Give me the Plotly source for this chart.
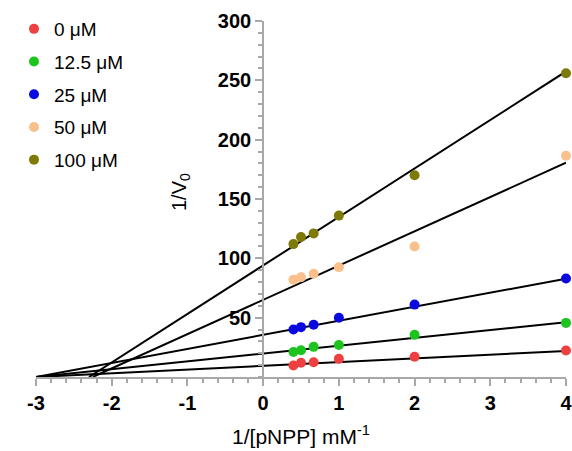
import plotly.graph_objects as go

# Data
inv_s = [0.4, 0.5, 0.667, 1.0, 2.0, 4.0]
series_names = ["0 μM", "12.5 μM", "25 μM", "50 μM", "100 μM"]
y_0 = [9.7, 12.0, 12.5, 15.3, 17.0, 22.3]
y_12_5 = [21.0, 22.5, 25.4, 27.0, 35.5, 45.6]
y_25 = [40.0, 42.0, 44.0, 50.0, 61.0, 83.0]
y_50 = [82.0, 84.0, 87.0, 92.5, 110.0, 186.5]
y_100 = [112.0, 118.0, 121.0, 136.0, 170.0, 256.0]
series_values = [y_0, y_12_5, y_25, y_50, y_100]
colors = ["#ee4040", "#1ec41e", "#0a0ae0", "#f9c08c", "#7d7a08"]

# Fitted line parameters (x-intercept, y-intercept)
fit_x_int = [-3.0, -3.0, -3.0, -2.25, -2.3]
fit_y_int = [9.4, 19.8, 35.5, 65.0, 94.0]
x_end = 4.0

x_ticks = [-3, -2, -1, 0, 1, 2, 3, 4]
y_ticks = [50, 100, 150, 200, 250, 300]

fig = go.Figure()

for xi, yi in zip(fit_x_int, fit_y_int):
    slope = -yi / xi
    fig.add_trace(go.Scatter(
        x=[xi, x_end], y=[0, yi + slope * x_end], mode="lines",
        line=dict(color="black", width=2), showlegend=False, hoverinfo="skip"))

for i, (name, vals, col) in enumerate(zip(series_names, series_values, colors)):
    fig.add_trace(go.Scatter(
        x=inv_s, y=vals, mode="markers", name=name, legendgroup=f"g{i}",
        marker=dict(color=col, size=10), cliponaxis=False))

font_family = "Liberation Sans, Arial, sans-serif"
axis_col = "#a8a8a8"

W, H = 572, 451
ml, mr, mt, mb = 36, 6, 21, 74
pw = W - ml - mr
ph = H - mt - mb

fig.update_layout(
    width=W, height=H,
    margin=dict(l=ml, r=mr, t=mt, b=mb, autoexpand=False),
    paper_bgcolor="white", plot_bgcolor="white",
    font=dict(family=font_family, color="black"),
    showlegend=True,
    legend=dict(xref="container", yref="container",
                x=14 / W, y=1 - 10 / H, xanchor="left", yanchor="top",
                font=dict(size=19, family=font_family),
                tracegroupgap=5, itemwidth=30, bgcolor="rgba(0,0,0,0)"),
    xaxis=dict(range=[-3, 4], tickvals=x_ticks,
               ticktext=[f"<b>{t}</b>" for t in x_ticks],
               ticklabeloverflow="allow", automargin=False,
               showgrid=False, zeroline=False, showline=True,
               linecolor=axis_col, linewidth=2,
               ticks="outside", ticklen=7, tickwidth=2, tickcolor=axis_col,
               minor=dict(dtick=0.2, ticks="outside", ticklen=4, tickwidth=1.5, tickcolor=axis_col, showgrid=False),
               tickfont=dict(size=20, family=font_family),
               title=dict(text="1/[pNPP] mM<sup>-1</sup>", font=dict(size=21), standoff=16)),
    yaxis=dict(range=[0, 300], tickvals=y_ticks,
               ticktext=[f"<b>{t}</b>" for t in y_ticks],
               ticklabeloverflow="allow", automargin=False,
               anchor="free", position=3 / 7,
               showgrid=False, zeroline=False, showline=True,
               linecolor=axis_col, linewidth=2,
               ticks="outside", ticklen=7, tickwidth=2, tickcolor=axis_col,
               minor=dict(dtick=10, ticks="outside", ticklen=4, tickwidth=1.5, tickcolor=axis_col, showgrid=False),
               tickfont=dict(size=20, family=font_family)),
)

fig.add_annotation(text="1/V<sub>0</sub>", xref="paper", yref="paper",
                   x=(180 - ml) / pw, y=(377 - 192) / ph,
                   xanchor="center", yanchor="middle", textangle=-90,
                   showarrow=False, font=dict(size=20, family=font_family))

# remove the default 8px page margin so the figure sits at the window origin
fig.write_html("out.html", config={"displayModeBar": False},
               post_script="document.body.style.margin='0';")
